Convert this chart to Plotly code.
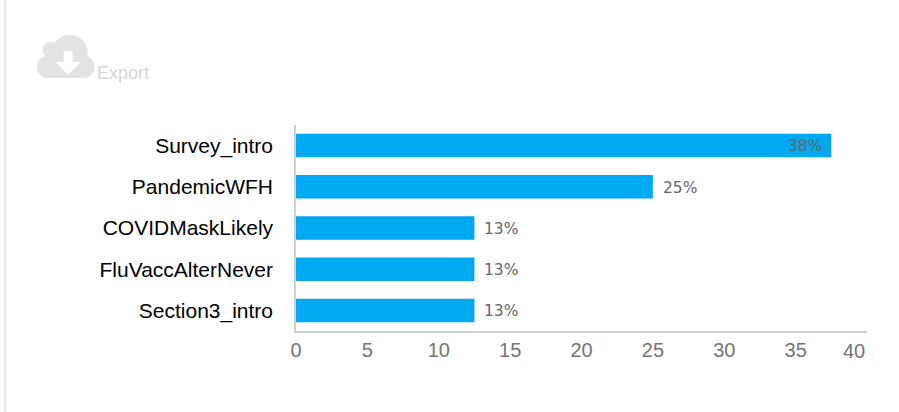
import plotly.graph_objects as go

categories = ["Survey_intro", "PandemicWFH", "COVIDMaskLikely", "FluVaccAlterNever", "Section3_intro"]
values = [37.5, 25, 12.5, 12.5, 12.5]
value_labels = ["38%", "25%", "13%", "13%", "13%"]
tick_values = [0, 5, 10, 15, 20, 25, 30, 35]

W, H = 899, 412
L, R, T, B = 295.5, 867, 125, 331


def px(x):
    return (x - L) / (R - L)


def py(y):
    return (B - y) / (B - T)


def circle(cx, cy, r, color):
    return dict(type="circle", xref="paper", yref="paper",
                x0=px(cx - r), x1=px(cx + r), y0=py(cy + r), y1=py(cy - r),
                fillcolor=color, line_width=0, layer="above")


def poly(points, color):
    d = "M" + " L".join(f"{px(a):.5f},{py(b):.5f}" for a, b in points) + " Z"
    return dict(type="path", xref="paper", yref="paper", path=d,
                fillcolor=color, line_width=0, layer="above")


cloud = "#e1e3e5"
shapes = [
    dict(type="line", xref="paper", yref="paper", x0=px(4.5), x1=px(4.5), y0=py(0), y1=py(412),
         line=dict(color="#e4e4e4", width=2), layer="below"),
    circle(69, 53, 18, cloud),
    circle(50, 50, 8, cloud),
    circle(47, 67, 11, cloud),
    circle(83, 67, 11, cloud),
    poly([(47, 60), (83, 60), (83, 78), (47, 78)], cloud),
    poly([(63, 51), (72, 51), (72, 62), (80, 62), (67.5, 75), (55, 62), (63, 62)], "#ffffff"),
]

annotations = [
    dict(x=v, y=c, xref="x", yref="y", text=t, showarrow=False,
         xanchor="right" if v == max(values) else "left",
         xshift=-7 if v == max(values) else 8,
         yshift=0 if v == max(values) else -1,
         font=dict(family="DejaVu Sans", size=15.5, color="#666666"))
    for c, v, t in zip(categories, values, value_labels)
]
annotations.append(dict(x=40, y=0, xref="x", yref="paper", text="40", showarrow=False,
                        xanchor="right", yanchor="top", yshift=-7,
                        font=dict(family="Liberation Sans", size=20, color="#757575")))
annotations.append(dict(x=px(94), y=py(73), xref="paper", yref="paper", text="Export",
                        showarrow=False, xanchor="left", yanchor="middle",
                        font=dict(family="Liberation Sans", size=18, color="#d6d6d6")))

fig = go.Figure(go.Bar(x=values, y=categories, orientation="h",
                       marker=dict(color="#00a9f0", line_width=0), width=0.57))
fig.update_layout(
    width=W, height=H, autosize=False,
    margin=dict(l=L, r=W - R, t=T, b=H - B, pad=0),
    paper_bgcolor="white", plot_bgcolor="white",
    shapes=shapes, annotations=annotations, showlegend=False,
    xaxis=dict(range=[0, 40], tickmode="array", tickvals=tick_values, showgrid=False, zeroline=False,
               showline=True, linecolor="#d0d0d0", linewidth=1.5, ticks="",
               tickfont=dict(family="Liberation Sans", size=20, color="#757575")),
    yaxis=dict(autorange="reversed", showgrid=False, zeroline=False, showline=True,
               linecolor="#d0d0d0", linewidth=1.5, ticks="", ticklen=0, automargin=False,
               ticklabelstandoff=17,
               tickfont=dict(family="Liberation Sans", size=21, color="#000000")),
)
fig.write_html("out.html", config=dict(displayModeBar=False),
               post_script="document.body.style.margin='0';document.documentElement.style.overflow='hidden';")
